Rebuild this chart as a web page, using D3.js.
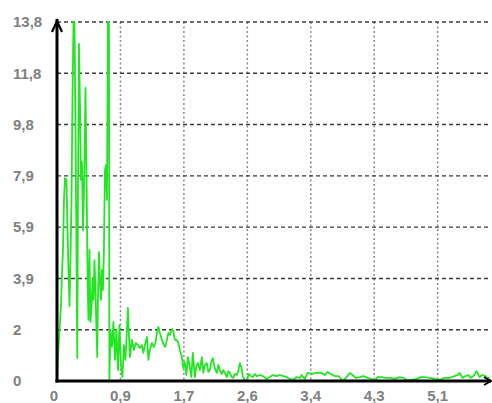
<!DOCTYPE html>
<html><head><meta charset="utf-8">
<script src="https://cdn.jsdelivr.net/npm/d3@7"></script>
<style>html,body{margin:0;padding:0;background:#fff;overflow:hidden}</style>
</head><body>
<svg id="c" width="492" height="403"></svg>
<script>
// x values (units) of the signal
const xs = [0,0.013,0.034,0.054,0.067,0.081,0.094,0.108,0.128,0.142,0.155,0.169,0.182,0.196,0.209,0.223,0.236,0.25,0.263,0.274,0.283,0.297,0.31,0.324,0.337,0.351,0.364,0.385,0.398,0.412,0.425,0.439,0.452,0.466,0.479,0.493,0.506,0.52,0.533,0.544,0.553,0.567,0.58,0.594,0.607,0.621,0.634,0.648,0.661,0.675,0.688,0.702,0.708,0.722,
0.742,0.762,0.783,0.803,0.823,0.843,0.864,0.884,0.904,0.924,0.945,0.958,0.972,0.985,1.012,1.039,1.066,1.093,1.120,1.147,1.167,1.188,1.215,1.235,1.255,1.282,1.309,1.329,1.350,1.370,1.390,1.417,1.444,1.464,1.484,1.505,1.525,1.552,1.572,1.592,1.619,1.640,1.660,1.687,1.707,1.727,1.748,1.768,1.795,1.815,1.835,1.862,1.883,1.903,1.930,1.957,1.977,1.997,2.024,2.045,2.065,2.085,2.105,2.132,2.159,2.180,2.200,2.227,2.247,2.267,2.294,2.314,2.335,2.362,2.382,2.402,2.429,2.449,2.470,2.490,2.510,2.537,2.564,2.591,2.618,2.645,2.672,2.699,2.740,2.780,2.834,2.875,2.915,2.969,3.009,3.063,3.104,3.144,3.185,3.239,3.279,3.306,3.347,3.387,3.441,3.509,3.576,3.617,3.657,3.698,3.752,3.806,3.860,3.914,3.954,3.995,4.035,4.089,4.143,4.197,4.251,4.291,4.332,4.386,4.440,4.494,4.561,4.629,4.683,4.723,4.791,4.858,4.912,4.966,5.034,5.101,5.169,5.236,5.304,5.371,5.412,5.439,5.479,5.520,5.560,5.587,5.628,5.668,5.709,5.749,5.789,5.816,5.843];
// signal values
const ys = [0,0.92,1.96,2.92,4.08,5.04,6.96,7.8,7.73,5.8,4.27,2.88,4.65,6.96,10.8,13.8,13.8,9.65,5.04,0.88,6.96,12.96,10.7,7.73,8.42,5.8,7.15,11.27,8.1,4.27,2.35,5.04,2.27,2.73,3.88,3.12,4.65,3.5,1.96,0.92,3.12,4.96,3.88,3.12,4.27,3.5,5.04,8.1,8.3,6.96,13.8,13.8,0,1.96,
1.31,2.27,0.81,1.96,0.42,2.15,0.62,0.15,1.38,0.81,1.96,2.81,1.77,0.92,1.58,1.19,1.46,1.38,1.27,1.38,1.08,1.38,1.69,0.81,1.19,1.46,1.31,1.46,1.85,2.08,1.85,1.58,1.38,1.31,1.58,1.85,1.77,2.0,1.92,1.58,1.58,1.46,1.19,0.92,0.5,0.73,0.23,0.92,0.54,0.15,1.08,0.15,0.58,0.69,0.42,0.92,0.31,0.62,0.69,0.35,0.42,0.73,0.88,0.5,0.31,0.62,0.42,0.27,0.42,0.31,0.15,0.38,0.31,0.15,0.12,0.27,0.23,0.38,0.69,0.54,0.19,0.04,0,0.27,0.19,0.15,0.27,0.19,0.23,0.19,0.08,0.15,0.23,0.19,0.23,0.19,0.15,0.08,0.04,0.15,0.12,0.23,0.08,0.31,0.27,0.31,0.31,0.23,0.35,0.27,0.19,0.19,0,0.15,0.31,0.23,0.12,0.15,0.19,0.12,0.08,0,0.15,0.15,0.12,0.12,0.08,0.15,0.12,0.04,0.04,0.08,0.15,0.15,0.12,0.08,0.04,0.12,0.12,0.19,0.23,0.31,0.12,0.19,0.23,0.12,0.19,0.38,0.15,0.23,0.19,0.08,0.15];
const xTickVals = [0, 6/7, 12/7, 18/7, 24/7, 30/7, 36/7];
const xTickLabels = ["0","0,9","1,7","2,6","3,4","4,3","5,1"];
const yTickVals = [0, 13.8/7, 27.6/7, 41.4/7, 55.2/7, 69/7, 82.8/7, 13.8];
const yTickLabels = ["0","2","3,9","5,9","7,9","9,8","11,8","13,8"];

const svg = d3.select("#c");
const x = d3.scaleLinear().domain([0, 5.85]).range([57, 490]);
const y = d3.scaleLinear().domain([0, 13.8]).range([381, 22]);

// vertical grid
svg.append("g").selectAll("line").data(xTickVals.slice(1)).join("line")
  .attr("x1", d => x(d)).attr("x2", d => x(d))
  .attr("y1", y(13.8)).attr("y2", y(0))
  .attr("stroke", "#8a8a8a").attr("stroke-width", 1.5).attr("stroke-dasharray", "2,2.5");
// horizontal grid
svg.append("g").selectAll("line").data(yTickVals.slice(1)).join("line")
  .attr("x1", x(0)).attr("x2", 490)
  .attr("y1", d => y(d)).attr("y2", d => y(d))
  .attr("stroke", "#3a3a3a").attr("stroke-width", 1.4).attr("stroke-dasharray", "4,3");

// signal
const data = xs.map((v, i) => [v, ys[i]]);
svg.append("path").datum(data)
  .attr("fill", "none").attr("stroke", "#22e622").attr("stroke-width", 1.8)
  .attr("stroke-linejoin", "round")
  .attr("d", d3.line().x(d => x(d[0])).y(d => y(d[1])));

// axes
const ax = svg.append("g").attr("stroke", "#000").attr("fill", "none").attr("stroke-width", 3);
ax.append("line").attr("x1", x(0)).attr("x2", x(0)).attr("y1", y(0) + 1.5).attr("y2", 19);
ax.append("line").attr("x1", x(0) - 1.5).attr("x2", 491).attr("y1", y(0)).attr("y2", y(0));
ax.append("path").attr("stroke-width", 2.2).attr("d", `M${x(0)-5},${32} L${x(0)},${21} L${x(0)+5},${32}`);
ax.append("path").attr("stroke-width", 2).attr("d", `M484,${y(0)-4} L491,${y(0)} L484,${y(0)+4}`);

// y labels
svg.append("g").selectAll("text").data(yTickVals).join("text")
  .attr("x", 13).attr("y", d => y(d)).attr("dy", "0.35em")
  .attr("font-family", "Liberation Sans, Arial, sans-serif").attr("font-weight", "bold")
  .attr("font-size", 15).attr("fill", "#808080")
  .text((d, i) => yTickLabels[i]);
// x labels
svg.append("g").selectAll("text").data(xTickVals).join("text")
  .attr("x", (d, i) => x(d) + (i === 0 ? -3 : 0)).attr("y", 396).attr("dy", "0.35em")
  .attr("text-anchor", "middle")
  .attr("font-family", "Liberation Sans, Arial, sans-serif").attr("font-weight", "bold")
  .attr("font-size", 15).attr("fill", "#808080")
  .text((d, i) => xTickLabels[i]);
</script>
</body></html>
